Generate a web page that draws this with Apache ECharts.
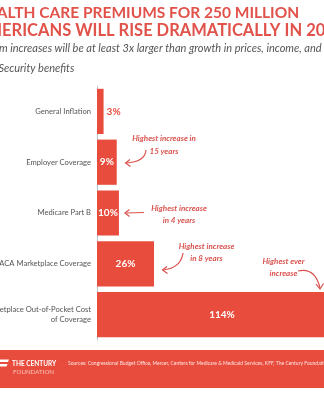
<!DOCTYPE html>
<html>
<head>
<meta charset="utf-8">
<script src="https://cdn.jsdelivr.net/npm/echarts@6/dist/echarts.min.js"></script>
<style>
  html, body { margin: 0; padding: 0; background: #ffffff; }
  #chart { width: 324px; height: 400px; }
</style>
</head>
<body>
<div id="chart"></div>
<script>
// Premium categories, top to bottom
const categories = [
  'General Inflation',
  'Employer Coverage',
  'Medicare Part B',
  'ACA Marketplace Coverage',
  'ACA Marketplace Out-of-Pocket Cost\nof Coverage'
];
// Projected 2026 increase, percent
const increases = [3, 9, 10, 26, 114];
// Callout notes beside the bars
const notes = [
  '',
  'Highest increase in\n15 years',
  'Highest increase\nin 4 years',
  'Highest increase\nin 8 years',
  'Highest ever\nincrease'
];

const RED = '#e84c3d';
const NOTE_RED = '#d9534f';
const FONT = 'Lato, "Noto Sans", sans-serif';

const chart = echarts.init(document.getElementById('chart'), null, { renderer: 'canvas' });

const barData = increases.map((v, i) => {
  if (i === 0) {
    return { value: v, label: { position: 'right', distance: 3, color: RED } };
  }
  return { value: v };
});

function noteText(i, x, y, lh) {
  return {
    type: 'text', z: 10,
    style: {
      text: notes[i], x: x, y: y, fill: NOTE_RED,
      fontFamily: FONT, fontSize: 8, fontStyle: 'italic', fontWeight: 'bold',
      align: 'center', verticalAlign: 'middle', lineHeight: lh
    }
  };
}
function curve(x1, y1, cx, cy, x2, y2) {
  return { type: 'bezierCurve', z: 10, shape: { x1, y1, cpx1: cx, cpy1: cy, x2, y2 },
    style: { stroke: NOTE_RED, lineWidth: 1.2, fill: null } };
}
function head(points) {
  return { type: 'polyline', z: 10, shape: { points },
    style: { stroke: NOTE_RED, lineWidth: 1.2, fill: null } };
}

chart.setOption({
  animation: false,
  backgroundColor: '#ffffff',
  grid: { left: 97, top: 86, width: 250, height: 254, containLabel: false, outerBoundsMode: 'none' },
  xAxis: {
    type: 'value', min: 0, max: 114,
    show: false
  },
  yAxis: {
    type: 'category', data: categories, inverse: true,
    axisLine: { show: true, lineStyle: { color: '#b9c6d3', width: 1 } },
    axisTick: { show: false },
    axisLabel: {
      color: '#555555', fontFamily: FONT, fontSize: 7.6, margin: 6,
      align: 'right', lineHeight: 9.5
    }
  },
  series: [{
    type: 'bar',
    data: barData,
    barCategoryGap: '11%',
    itemStyle: { color: RED },
    label: {
      show: true, position: 'inside', formatter: '{c}%',
      color: '#ffffff', fontFamily: FONT, fontSize: 10, fontWeight: 'bold'
    }
  }],
  graphic: [
    // Headline
    { type: 'text', style: { text: 'HEALTH CARE PREMIUMS FOR 250 MILLION', x: -24, y: 13,
      fill: '#e0524a', fontFamily: FONT, fontSize: 15.5, fontWeight: 'bold', verticalAlign: 'middle' } },
    { type: 'text', style: { text: 'AMERICANS WILL RISE DRAMATICALLY IN 2026', x: -25, y: 31,
      fill: '#e0524a', fontFamily: FONT, fontSize: 16.5, fontWeight: 'bold', verticalAlign: 'middle' } },
    // Subhead
    { type: 'text', style: { text: 'Premium increases will be at least 3x larger than growth in prices, income, and', x: -33, y: 48,
      fill: '#555555', fontFamily: FONT, fontSize: 11, fontStyle: 'italic', verticalAlign: 'middle' } },
    { type: 'text', style: { text: 'Social Security benefits', x: -31, y: 68,
      fill: '#555555', fontFamily: FONT, fontSize: 11, fontStyle: 'italic', verticalAlign: 'middle' } },
    // Callouts
    noteText(1, 164, 144.5, 13),
    curve(146, 150, 145, 162, 126, 163),
    head([[130, 159.5], [125.5, 163], [130.5, 166.5]]),
    noteText(2, 179, 214, 12),
    { type: 'line', z: 10, shape: { x1: 144, y1: 212.5, x2: 125, y2: 213 },
      style: { stroke: NOTE_RED, lineWidth: 1.2 } },
    head([[129.5, 209.5], [125, 213], [129.5, 216.5]]),
    noteText(3, 206.5, 252, 12),
    curve(183, 253, 181, 268, 163, 270),
    head([[167, 266.5], [162.5, 270], [167.5, 273.5]]),
    noteText(4, 283.5, 267, 12),
    curve(298, 271, 315, 267, 320, 288),
    head([[316, 284], [320, 289], [323.5, 283.5]]),
    // Footer band
    { type: 'rect', shape: { x: 0, y: 350, width: 324, height: 38 }, style: { fill: RED } },
    { type: 'polygon', shape: { points: [[0, 359.5], [9, 359.5], [8, 362], [0, 362]] }, style: { fill: '#ffffff' } },
    { type: 'polygon', shape: { points: [[0, 364], [7.5, 364], [6.5, 366.5], [0, 366.5]] }, style: { fill: '#ffffff' } },
    { type: 'text', style: { text: 'THE CENTURY', x: 12, y: 363.5, fill: '#ffffff',
      fontFamily: FONT, fontSize: 6.5, fontWeight: 'bold', verticalAlign: 'middle' } },
    { type: 'text', style: { text: 'FOUNDATION', x: 13, y: 372, fill: '#f7c3bb',
      fontFamily: FONT, fontSize: 6.2, verticalAlign: 'middle' } },
    { type: 'text', style: { text: 'Sources: Congressional Budget Office, Mercer, Centers for Medicare & Medicaid Services, KFF, The Century Foundation',
      x: 68, y: 363.5, fill: '#fde3df', fontFamily: FONT, fontSize: 5, verticalAlign: 'middle' } }
  ]
});
</script>
</body>
</html>
